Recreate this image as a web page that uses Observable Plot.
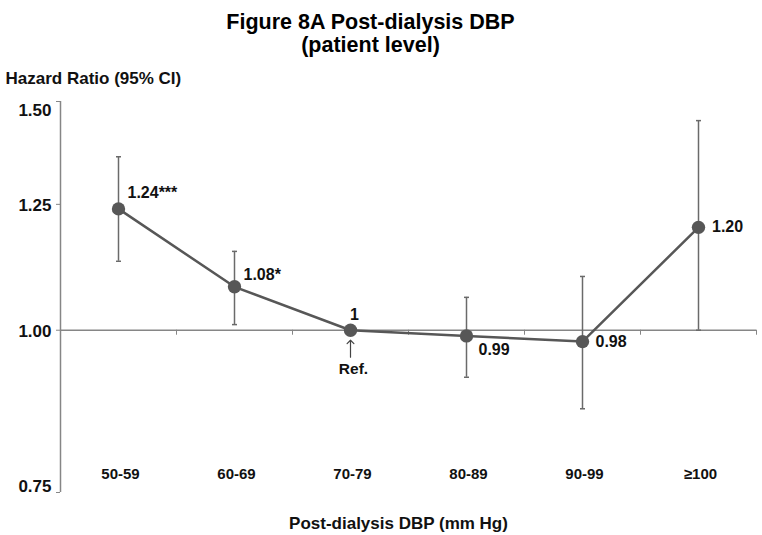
<!DOCTYPE html>
<html><head><meta charset="utf-8">
<script src="https://cdn.jsdelivr.net/npm/d3@7"></script>
<script src="https://cdn.jsdelivr.net/npm/@observablehq/plot@0.6"></script>
<style>
body{margin:0;background:#fff}
#chart svg text{font-family:"Liberation Sans",Arial,sans-serif;font-weight:bold}
</style>
</head><body><div id="chart"></div>
<script>
// ---- data ----
const categories = ["50-59", "60-69", "70-79", "80-89", "90-99", "\u2265100"];
const hazardRatio = [1.24, 1.08, 1.00, 0.99, 0.98, 1.20];
const ciLow  = [1.13, 1.01, null, 0.92, 0.87, 1.00];
const ciHigh = [1.36, 1.15, null, 1.06, 1.10, 1.45];
const pointLabels = ["1.24***", "1.08*", "1", "0.99", "0.98", "1.20"];
const yTicks = [0.75, 1.00, 1.25, 1.50];
const yTickLabels = ["0.75", "1.00", "1.25", "1.50"];
const refIndex = 2;
const titleText = "Figure 8A Post-dialysis DBP\n(patient level)";
const yTitle = "Hazard Ratio (95% CI)";
const xTitle = "Post-dialysis DBP (mm Hg)";

const rows = categories.map((c, i) => ({cat: c, hr: hazardRatio[i], lo: ciLow[i], hi: ciHigh[i], label: pointLabels[i]}));
const ciRows = rows.filter(d => d.lo != null);

// ---- style/layout ----
const lineColor = "#575757";
const barColor = "#6a6a6a";
const axisColor = "#868686";
const textColor = "#111";
const half = 58; // half category step in px
const labelLayout = [
  {dx: 9, dy: -16, anchor: "start"},
  {dx: 9, dy: -12, anchor: "start"},
  {dx: 4, dy: -15.5, anchor: "middle"},
  {dx: 12, dy: 13.5, anchor: "start"},
  {dx: 13, dy: 0, anchor: "start"},
  {dx: 13.5, dy: 0, anchor: "start"}
];
const capSymbol = {draw(ctx) { ctx.moveTo(-2.5, 0); ctx.lineTo(2.5, 0); }};

const labelMarks = rows.map((r, i) => Plot.text([r], {
  x: "cat", y: "hr", text: "label",
  dx: labelLayout[i].dx, dy: labelLayout[i].dy, textAnchor: labelLayout[i].anchor,
  fontSize: 16, fill: textColor
}));

const tickIdx = yTicks.map((t, i) => i);
const plot = Plot.plot({
  width: 762, height: 535,
  marginLeft: 60, marginRight: 6, marginTop: 101, marginBottom: 43,
  style: {background: "#fff", overflow: "visible", fontFamily: "'Liberation Sans', Arial, sans-serif"},
  x: {type: "point", domain: categories, padding: 0.5, axis: null},
  y: {type: "log", domain: [yTicks[0], yTicks[yTicks.length - 1]], axis: null},
  marks: [
    // y axis line
    Plot.ruleX([categories[0]], {x: d => d, y1: () => yTicks[0], y2: () => yTicks[yTicks.length - 1], dx: -half, stroke: axisColor, strokeWidth: 1.5}),
    // y axis ticks
    Plot.ruleY(yTicks, {y: d => d, x1: () => categories[0], x2: () => categories[0], dx: -half, insetLeft: -4, stroke: axisColor, strokeWidth: 1}),
    // x axis line at HR = 1
    Plot.ruleY([1], {stroke: axisColor, strokeWidth: 1.5}),
    // x axis ticks at category boundaries
    Plot.ruleX(categories, {x: d => d, y1: () => 1, y2: () => 1, dx: half, insetBottom: -5, stroke: axisColor, strokeWidth: 1}),
    // CI bars
    Plot.ruleX(ciRows, {x: "cat", y1: "lo", y2: "hi", stroke: barColor, strokeWidth: 1.5}),
    Plot.dot(ciRows, {x: "cat", y: "lo", symbol: capSymbol, stroke: barColor, strokeWidth: 1.5, fill: "none"}),
    Plot.dot(ciRows, {x: "cat", y: "hi", symbol: capSymbol, stroke: barColor, strokeWidth: 1.5, fill: "none"}),
    // line + points
    Plot.line(rows, {x: "cat", y: "hr", stroke: lineColor, strokeWidth: 2.5}),
    Plot.dot(rows, {x: "cat", y: "hr", r: 6.7, fill: lineColor}),
    ...labelMarks,
    // reference arrow
    Plot.vector([rows[refIndex]], {x: "cat", y: "hr", length: 17, rotate: 0, anchor: "start", dy: 27, stroke: "#444", strokeWidth: 1.2}),
    Plot.text([rows[refIndex]], {x: "cat", y: "hr", text: () => "Ref.", dx: 3, dy: 39, fontSize: 15.5, fill: textColor}),
    // category labels
    Plot.text(categories, {x: d => d, text: d => d, frameAnchor: "bottom", dx: 2, dy: -14, fontSize: 15, fill: textColor}),
    // y tick labels
    Plot.text(tickIdx.filter(i => i === yTicks.length - 1), {y: i => yTicks[i], text: i => yTickLabels[i], frameAnchor: "left", dx: -9, dy: 9.5, textAnchor: "end", fontSize: 17, fill: textColor}),
    Plot.text(tickIdx.filter(i => i > 0 && i < yTicks.length - 1), {y: i => yTicks[i], text: i => yTickLabels[i], frameAnchor: "left", dx: -9, dy: 1, textAnchor: "end", fontSize: 17, fill: textColor}),
    Plot.text(tickIdx.filter(i => i === 0), {y: i => yTicks[i], text: i => yTickLabels[i], frameAnchor: "left", dx: -9, dy: -6, textAnchor: "end", fontSize: 17, fill: textColor}),
    // titles
    Plot.text([titleText], {text: d => d, frameAnchor: "top", dx: -38, dy: -88, fontSize: 21.5, lineHeight: 1.04, fill: "#000"}),
    Plot.text([yTitle], {text: d => d, frameAnchor: "top-left", dx: -55, dy: -30, textAnchor: "start", fontSize: 17, fill: textColor}),
    Plot.text([xTitle], {text: d => d, frameAnchor: "bottom", dx: -10, dy: 36, fontSize: 17, fill: textColor})
  ]
});
document.getElementById("chart").appendChild(plot);
</script>
</body></html>
